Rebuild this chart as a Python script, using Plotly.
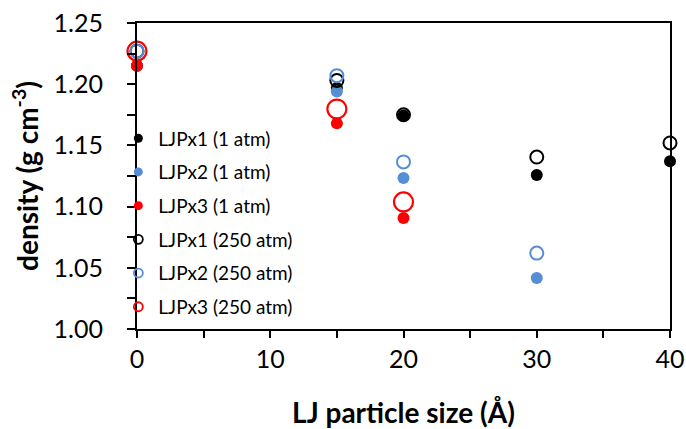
import plotly.graph_objects as go

# LJ particle size (Å) and density (g cm^-3) for each system / pressure
size_x1 = [0, 15, 20, 30, 40]
size_x2 = [0, 15, 20, 30]
size_x3 = [0, 15, 20]

dens_x1_1atm = [1.215, 1.197, 1.1745, 1.1258, 1.137]
dens_x2_1atm = [1.215, 1.194, 1.1234, 1.0417]
dens_x3_1atm = [1.215, 1.168, 1.0907]

dens_x1_250atm = [1.227, 1.203, 1.175, 1.1405, 1.152]
dens_x2_250atm = [1.227, 1.207, 1.1365, 1.062]
dens_x3_250atm = [1.227, 1.1797, 1.1038]

names = ["LJPx1 (1 atm)", "LJPx2 (1 atm)", "LJPx3 (1 atm)",
         "LJPx1 (250 atm)", "LJPx2 (250 atm)", "LJPx3 (250 atm)"]

BLACK = "#000000"
BLUE = "#558ED5"
RED = "#FF0000"

series = [
    (size_x1, dens_x1_1atm, BLACK, "circle", 12, 0),
    (size_x2, dens_x2_1atm, BLUE, "circle", 12, 0),
    (size_x3, dens_x3_1atm, RED, "circle", 12, 0),
    (size_x1, dens_x1_250atm, BLACK, "circle-open", 13, 2),
    (size_x2, dens_x2_250atm, BLUE, "circle-open", 13, 2),
    (size_x3, dens_x3_250atm, RED, "circle-open", 19, 2.2),
]

fig = go.Figure()
for name, (xs, ys, col, sym, sz, lw) in zip(names, series):
    fig.add_trace(go.Scatter(
        x=xs, y=ys, mode="markers", name=name, showlegend=False,
        cliponaxis=False,
        marker=dict(color=col, symbol=sym, size=sz,
                    line=dict(color=col, width=lw)),
    ))

# compact legend entries with smaller symbols
for i, (name, (xs, ys, col, sym, sz, lw)) in enumerate(zip(names, series)):
    fig.add_trace(go.Scatter(
        x=[None], y=[None], mode="markers", name=name,
        legendgroup=f"g{i}",
        marker=dict(color=col, symbol=sym, size=9,
                    line=dict(color=col, width=1.8 if lw else 0)),
    ))

FONT = "Lato"
fig.update_layout(
    width=686, height=429,
    margin=dict(l=137, r=16, t=23, b=100),
    paper_bgcolor="white", plot_bgcolor="white",
    font=dict(family=FONT, color="#000000"),
    showlegend=True,
    legend=dict(
        x=-0.035, y=0.685, xanchor="left", yanchor="top",
        bgcolor="rgba(0,0,0,0)",
        font=dict(family=FONT, size=19, color="#000000"),
        tracegroupgap=6, itemwidth=30,
    ),
    xaxis=dict(
        range=[0, 40], tickmode="linear", tick0=0, dtick=10,
        showgrid=False, zeroline=False, automargin=False,
        showline=True, linecolor="#000000", linewidth=2, mirror=True,
        ticks="outside", ticklen=7, tickwidth=2, tickcolor="#000000",
        minor=dict(dtick=5, ticks="outside", ticklen=7, tickwidth=2,
                   tickcolor="#000000", showgrid=False),
        tickfont=dict(family=FONT, size=25),
        title=dict(text="<b>LJ particle size (Å)</b>",
                   font=dict(family=FONT, size=28), standoff=31),
    ),
    yaxis=dict(
        range=[1.0, 1.25], tickmode="linear", tick0=1.0, dtick=0.05,
        tickformat=".2f", automargin=False,
        showgrid=False, zeroline=False,
        showline=True, linecolor="#000000", linewidth=2, mirror=True,
        ticks="outside", ticklen=8, tickwidth=2, tickcolor="#000000",
        ticklabelstandoff=19,
        minor=dict(dtick=0.025, ticks="outside", ticklen=8, tickwidth=2,
                   tickcolor="#000000", showgrid=False),
        tickfont=dict(family=FONT, size=25),
        title=dict(text="<b>density (g cm<sup>-3</sup>)</b>",
                   font=dict(family=FONT, size=28), standoff=7),
    ),
)

fig.write_html("out.html")
